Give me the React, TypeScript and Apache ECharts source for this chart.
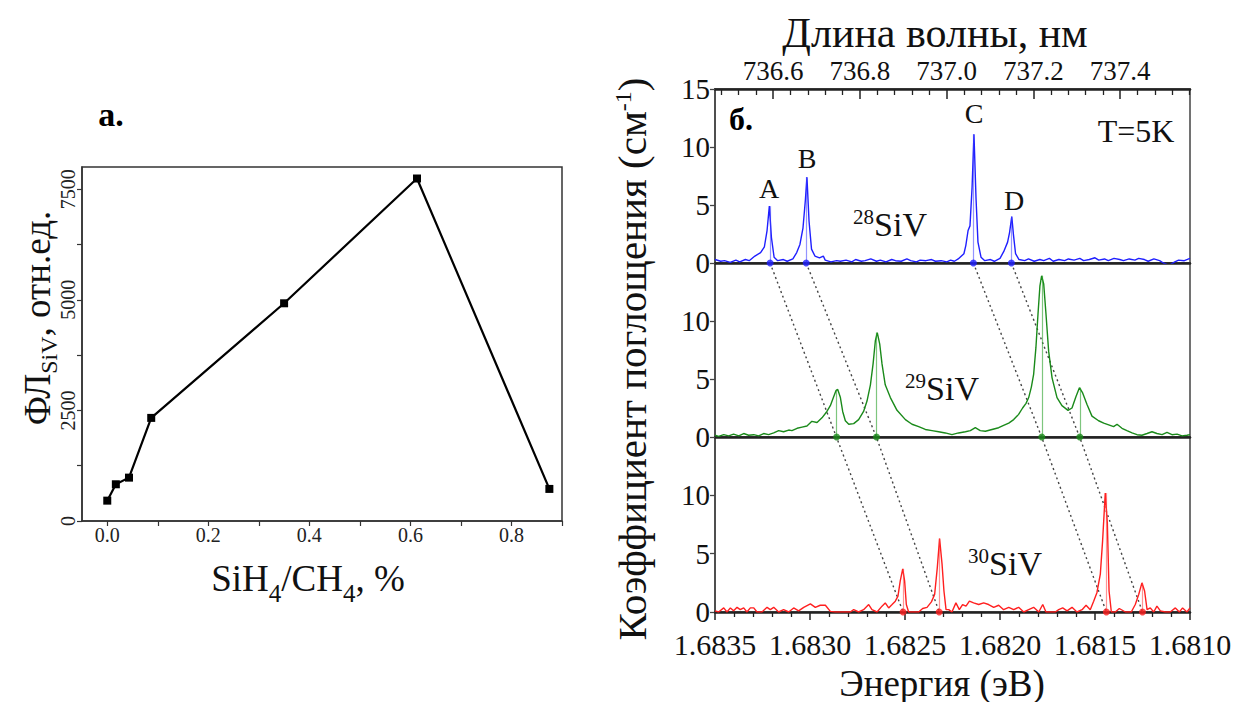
import React, { useEffect, useRef } from 'react';
import * as echarts from 'echarts';

const FONT = '"Liberation Serif", "Times New Roman", serif';

// ---------- left panel (а.) ----------
const silaneRatio = [0, 0.017, 0.043, 0.087, 0.35, 0.613, 0.875];
const plIntensity = [460, 830, 980, 2330, 4920, 7740, 725];
const ratioTicks = [0, 0.1, 0.2, 0.3, 0.4, 0.5, 0.6, 0.7, 0.8, 0.9];
const ratioLabels = [0, 0.2, 0.4, 0.6, 0.8];
const plTicks = [0, 1250, 2500, 3750, 5000, 6250, 7500];
const plLabels = [0, 2500, 5000, 7500];

// ---------- right panel (б.) ----------
const wavelengthLabels = [736.6, 736.8, 737.0, 737.2, 737.4];
const wavelengthMinor = [
  736.48, 736.52, 736.56, 736.64, 736.68, 736.72, 736.76, 736.84, 736.88, 736.92, 736.96,
  737.04, 737.08, 737.12, 737.16, 737.24, 737.28, 737.32, 737.36, 737.44, 737.48, 737.52, 737.56,
];
const peakNames = ['A', 'B', 'C', 'D'];
const peaks28E = [1.68321, 1.68302, 1.68214, 1.68194];
const peaks28H = [4.9, 7.4, 11.1, 4.0];
const peaks29E = [1.68286, 1.68265, 1.68178, 1.68158];
const peaks29H = [4.1, 9.0, 13.9, 4.25];
const peaks30E = [1.68251, 1.68232, 1.68144, 1.68125];
const peaks30H = [3.7, 6.3, 10.2, 2.5];

const spectrum28 = [
  [1.6835, 0.3], [1.68347, 0.15], [1.68345, 0.2], [1.68342, 0.05], [1.68339, 0.25], [1.68337, 0.1],
  [1.68334, 0.3], [1.68332, 0.2], [1.68329, 0.6], [1.68326, 0.9], [1.68324, 1.4], [1.683226, 2.8],
  [1.683214, 4.9], [1.683203, 2.2], [1.683189, 0.5], [1.68317, 0.2], [1.68314, 0.3], [1.68312, 0.15],
  [1.68309, 0.35], [1.68307, 0.9], [1.683053, 1.6], [1.683037, 3.0], [1.683024, 5.5], [1.683016, 7.4],
  [1.683005, 3.6], [1.682992, 1.2], [1.682974, 0.6], [1.68295, 0.45], [1.68293, 0.6], [1.68292, 0.25],
  [1.68289, 0.1], [1.68286, 0.2], [1.68284, 0.15], [1.68281, 0.25], [1.68278, 0.1], [1.68276, 0.3],
  [1.68273, 0.15], [1.68271, 0.2], [1.68268, 0.35], [1.68265, 0.15], [1.68263, 0.25], [1.6826, 0.1],
  [1.68257, 0.3], [1.68255, 0.2], [1.68252, 0.15], [1.68249, 0.35], [1.68247, 0.2], [1.68244, 0.1],
  [1.68242, 0.25], [1.68239, 0.2], [1.68236, 0.3], [1.68234, 0.15], [1.68231, 0.2], [1.68228, 0.1],
  [1.68226, 0.25], [1.68224, 0.15], [1.68222, 0.35], [1.68219, 0.8], [1.68218, 1.5], [1.682168, 2.8],
  [1.682158, 3.2], [1.682147, 6.5], [1.682137, 11.1], [1.682126, 5.5], [1.682116, 1.8], [1.6821, 0.5],
  [1.68208, 0.2], [1.68205, 0.3], [1.68203, 0.15], [1.682, 0.4], [1.68198, 1.0], [1.68196, 1.8],
  [1.68195, 2.6], [1.681938, 4.0], [1.681929, 2.4], [1.681918, 0.8], [1.6819, 0.3], [1.68187, 0.2],
  [1.68185, 0.35], [1.68182, 0.15], [1.68179, 0.3], [1.68177, 0.2], [1.68174, 0.4], [1.68172, 0.15],
  [1.68169, 0.3], [1.68166, 0.2], [1.68164, 0.35], [1.68161, 0.25], [1.68158, 0.4], [1.68156, 0.2],
  [1.68153, 0.3], [1.6815, 0.45], [1.68148, 0.25], [1.68145, 0.35], [1.68143, 0.2], [1.6814, 0.4],
  [1.68137, 0.3], [1.68135, 0.2], [1.68132, 0.35], [1.68129, 0.25], [1.68127, 0.4], [1.68124, 0.3],
  [1.68122, 0.15], [1.68119, 0.35], [1.68116, 0.2], [1.68114, 0.0], [1.68111, -0.2], [1.68108, 0.1],
  [1.68106, 0.25], [1.68103, 0.2], [1.681, 0.4],
];

const spectrum29 = [
  [1.6835, 0.15], [1.683481, 0.05], [1.683454, 0.2], [1.683428, 0.1], [1.683402, 0.25], [1.683375, 0.1],
  [1.683349, 0.3], [1.683323, 0.15], [1.683296, 0.2], [1.68327, 0.1], [1.683244, 0.3], [1.683218, 0.2],
  [1.683191, 0.35], [1.683165, 0.55], [1.683139, 0.45], [1.683112, 0.6], [1.683095, 0.55], [1.683068, 0.75],
  [1.683042, 0.85], [1.683016, 0.95], [1.68299, 1.35], [1.682963, 1.25], [1.682937, 1.65], [1.682911, 2.2],
  [1.682893, 2.7], [1.682875, 3.5], [1.682863, 4.0], [1.682854, 4.1], [1.68284, 3.4], [1.682828, 2.2],
  [1.682814, 1.4], [1.682796, 1.1], [1.68277, 1.15], [1.682744, 1.5], [1.682718, 2.2], [1.6827, 3.1],
  [1.682682, 4.5], [1.682668, 6.3], [1.682656, 8.3], [1.682646, 9.0], [1.682633, 8.0], [1.682621, 6.3],
  [1.682604, 4.5], [1.682577, 3.4], [1.682542, 2.3], [1.682498, 1.5], [1.682463, 1.1], [1.682428, 0.9],
  [1.682393, 0.65], [1.682358, 0.55], [1.682323, 0.45], [1.682288, 0.35], [1.682253, 0.2], [1.682218, 0.35],
  [1.682182, 0.45], [1.682156, 0.55], [1.68213, 0.8], [1.682104, 0.55], [1.682077, 0.5], [1.682042, 0.65],
  [1.682007, 0.8], [1.681981, 1.0], [1.681954, 1.2], [1.681928, 1.5], [1.681902, 1.95], [1.681881, 2.5],
  [1.681863, 2.9], [1.681849, 3.4], [1.681835, 4.3], [1.681823, 5.4], [1.681811, 7.7], [1.6818, 10.6],
  [1.68179, 13.0], [1.681781, 13.9], [1.68177, 13.2], [1.681758, 10.6], [1.681744, 7.4], [1.681726, 5.1],
  [1.6817, 3.4], [1.681674, 2.7], [1.681642, 2.3], [1.681621, 2.5], [1.6816, 3.5], [1.681582, 4.25],
  [1.681565, 3.8], [1.681542, 2.8], [1.681516, 1.8], [1.681481, 1.4], [1.681454, 1.2], [1.681428, 1.05],
  [1.681402, 0.9], [1.681384, 1.1], [1.681358, 0.75], [1.681332, 0.55], [1.681305, 0.35], [1.681279, 0.2],
  [1.681253, 0.15], [1.681226, 0.3], [1.6812, 0.45], [1.681174, 0.3], [1.681147, 0.2], [1.681121, 0.4],
  [1.681095, 0.2], [1.681068, 0.25], [1.681042, 0.1], [1.681016, 0.15], [1.681, 0.2],
];

const spectrum30 = [
  [1.6835, 0.1], [1.683481, 0], [1.683454, 0.35], [1.683437, 0], [1.683419, 0.35], [1.683402, 0.1],
  [1.683384, 0.4], [1.683367, 0.2], [1.683349, 0.35], [1.683332, 0], [1.683314, 0.35], [1.683296, 0.35],
  [1.683279, 0], [1.683253, 0], [1.683226, 0.4], [1.683209, 0.2], [1.683191, 0.4], [1.683165, 0],
  [1.683139, 0.2], [1.683112, 0], [1.683086, 0.35], [1.68306, 0.1], [1.683033, 0.4], [1.682998, 0.7],
  [1.682972, 0.4], [1.682946, 0.58], [1.682919, 0.58], [1.682893, 0.05], [1.682867, 0], [1.68284, 0],
  [1.682814, 0], [1.682788, 0], [1.68277, 0.2], [1.682744, 0], [1.682718, 0.2], [1.682691, 0.64],
  [1.682674, 0.2], [1.682647, 0], [1.682621, 0.5], [1.682604, 0.78], [1.682586, 0.35], [1.682568, 0.64],
  [1.682551, 0.93], [1.682537, 1.36], [1.682525, 2.67], [1.682512, 3.7], [1.682502, 2.67], [1.682493, 0.64],
  [1.682481, 0], [1.682454, 0], [1.682428, 0], [1.682407, 0.3], [1.682384, 0.4], [1.682361, 0.87],
  [1.682344, 1.5], [1.68233, 3.8], [1.682318, 6.3], [1.682305, 4.1], [1.682295, 1.8], [1.682284, 0.2],
  [1.68227, 0.2], [1.682253, 0], [1.682232, 0.78], [1.682214, 0.2], [1.682197, 0.64], [1.682179, 0.5],
  [1.682161, 0.93], [1.682139, 0.78], [1.682112, 0.64], [1.682086, 0.78], [1.68206, 0.64], [1.682033, 0.4],
  [1.682007, 0.58], [1.681981, 0.2], [1.681954, 0.4], [1.681928, 0.2], [1.681902, 0.4], [1.681875, 0],
  [1.681849, 0.2], [1.681823, 0.4], [1.681796, 0], [1.681775, 0.64], [1.681758, 0], [1.681735, 0],
  [1.681709, 0], [1.681691, 0.2], [1.68167, 0.35], [1.681647, 0.1], [1.681621, 0.4], [1.681595, 0],
  [1.681568, 0.2], [1.681547, 0.58], [1.681525, 0.2], [1.681507, 0.93], [1.68149, 1.65], [1.681472, 3.25],
  [1.68146, 6.1], [1.681446, 10.2], [1.681435, 7.6], [1.681426, 1.8], [1.681414, 0], [1.681393, 0],
  [1.681372, 0.3], [1.68134, 0], [1.681309, 0], [1.681288, 0.64], [1.68127, 1.5], [1.681253, 2.5],
  [1.681239, 1.8], [1.681226, 0.2], [1.681209, 0.35], [1.681191, 0], [1.681174, 0.5], [1.681156, 0.1],
  [1.68113, 0], [1.681104, 0], [1.681077, 0.35], [1.681056, 0], [1.681039, 0.35], [1.681016, 0],
  [1.681, 0.35],
];

const BLUE = '#1f1fff';
const GREEN = '#1a8a1a';
const RED = '#ff1f1f';

function App() {
  const ref = useRef<HTMLDivElement>(null);

  useEffect(() => {
    if (!ref.current) return;
    const chart = echarts.init(ref.current, undefined, { renderer: 'svg' });

    const tickFont = { fontFamily: FONT, color: '#111' };
    const energyBase = { type: 'value', min: 1.681, max: 1.6835, inverse: true, interval: 0.0005 };
    const sepAxis = (gridIndex: number) => ({
      gridIndex,
      ...energyBase,
      position: 'bottom',
      axisLine: { show: true, onZero: false, lineStyle: { color: '#222', width: 2.5 } },
      axisTick: { show: false },
      axisLabel: { show: false },
      splitLine: { show: false },
    });
    const panelY = (gridIndex: number, showMax: boolean) => ({
      gridIndex,
      type: 'value',
      min: 0,
      max: 15,
      interval: 5,
      axisLine: { show: true, onZero: false, lineStyle: { color: '#444', width: 1.5 } },
      axisTick: { show: true, length: 5, lineStyle: { color: '#444', width: 1.3 } },
      axisLabel: { ...tickFont, fontSize: 29, lineHeight: 29, margin: 5, showMaxLabel: showMax },
      splitLine: { show: false },
    });

    const spectrumSeries = (
      data: number[][],
      color: string,
      stemColor: string,
      peaksE: number[],
      peaksH: number[],
      idx: number
    ) => [
      {
        type: 'line',
        xAxisIndex: idx,
        yAxisIndex: idx === 1 ? 1 : idx === 4 ? 2 : 3,
        data,
        symbol: 'none',
        lineStyle: { color, width: 1.4 },
        silent: true,
        z: 3,
        markLine: {
          silent: true,
          symbol: ['none', 'none'],
          label: { show: false },
          lineStyle: { color: stemColor, width: 1.2, type: 'solid' },
          data: peaksE.map((e, i) => [{ coord: [e, 0] }, { coord: [e, peaksH[i]] }]),
        },
      },
      {
        type: 'scatter',
        xAxisIndex: idx,
        yAxisIndex: idx === 1 ? 1 : idx === 4 ? 2 : 3,
        data: peaksE.map((e) => [e, 0]),
        symbol: 'circle',
        symbolSize: 7,
        itemStyle: { color },
        silent: true,
        z: 5,
      },
    ];

    const connectors = peakNames.map((name, i) => ({
      type: 'line',
      name: 'link' + name,
      xAxisIndex: 6,
      yAxisIndex: 4,
      data: [
        [peaks28E[i], 2],
        [peaks29E[i], 1],
        [peaks30E[i], 0],
      ],
      symbol: 'none',
      silent: true,
      z: 2,
      lineStyle: { color: '#444', width: 1.4, type: [2, 3] },
    }));

    const text = (
      t: string,
      x: number,
      y: number,
      fontSize: number,
      extra: any = {},
      rotation = 0
    ) => ({
      type: 'text',
      x,
      y,
      rotation,
      silent: true,
      style: {
        text: t,
        fontSize,
        fontFamily: FONT,
        fill: '#111',
        align: 'center',
        verticalAlign: 'middle',
        ...extra,
      },
    });

    const supRich = (base: number, sup: number) => ({
      s: { fontSize: sup, fontFamily: FONT, fill: '#111', verticalAlign: 'top', lineHeight: sup },
      b: { fontSize: base, fontFamily: FONT, fill: '#111', lineHeight: base + 2 },
    });

    const option: any = {
      animation: false,
      backgroundColor: '#fff',
      grid: [
        { left: 82, top: 167, width: 480, height: 354, show: true, borderColor: '#333', borderWidth: 1.5 },
        { left: 715, top: 89, width: 475, height: 174, show: true, borderColor: '#444', borderWidth: 1.5 },
        { left: 715, top: 263, width: 475, height: 174, show: true, borderColor: '#444', borderWidth: 1.5 },
        { left: 715, top: 437, width: 475, height: 175, show: true, borderColor: '#444', borderWidth: 1.5 },
        { left: 715, top: 263, width: 475, height: 349, show: false },
      ],
      xAxis: [
        {
          gridIndex: 0,
          type: 'value',
          min: -0.05,
          max: 0.9,
          position: 'bottom',
          axisLine: { show: true, onZero: false, lineStyle: { color: '#333', width: 1.5 } },
          axisTick: { show: true, customValues: ratioTicks, length: 5, lineStyle: { color: '#333', width: 1.2 } },
          axisLabel: {
            ...tickFont,
            color: '#222',
            customValues: ratioLabels,
            formatter: (v: number) => v.toFixed(1),
            fontSize: 20,
            margin: 4,
          },
          splitLine: { show: false },
        },
        sepAxis(1),
        {
          gridIndex: 1,
          type: 'value',
          min: 736.4657,
          max: 737.561,
          position: 'top',
          axisLine: { show: true, onZero: false, lineStyle: { color: '#222', width: 2.5 } },
          axisTick: { show: true, inside: true, length: 10, customValues: wavelengthLabels, lineStyle: { color: '#222', width: 1.5 } },
          axisLabel: {
            ...tickFont,
            customValues: wavelengthLabels,
            formatter: (v: number) => v.toFixed(1),
            fontSize: 27,
            margin: 5,
          },
          splitLine: { show: false },
        },
        {
          gridIndex: 1,
          type: 'value',
          min: 736.4657,
          max: 737.561,
          position: 'top',
          axisLine: { show: false, onZero: false },
          axisTick: { show: true, inside: true, length: 6, customValues: wavelengthMinor, lineStyle: { color: '#222', width: 1.3 } },
          axisLabel: { show: false },
          splitLine: { show: false },
        },
        sepAxis(2),
        {
          gridIndex: 3,
          ...energyBase,
          position: 'bottom',
          axisLine: { show: true, onZero: false, lineStyle: { color: '#222', width: 2.5 } },
          axisTick: { show: true, length: 8, lineStyle: { color: '#222', width: 1.5 } },
          minorTick: { show: true, splitNumber: 5, length: 5, lineStyle: { color: '#222', width: 1.3 } },
          axisLabel: { ...tickFont, fontSize: 30, lineHeight: 30, margin: 17, formatter: (v: number) => v.toFixed(4) },
          splitLine: { show: false },
          minorSplitLine: { show: false },
        },
        { gridIndex: 4, ...energyBase, show: false },
      ],
      yAxis: [
        {
          gridIndex: 0,
          type: 'value',
          min: 0,
          max: 8000,
          axisLine: { show: true, onZero: false, lineStyle: { color: '#333', width: 1.5 } },
          axisTick: { show: true, customValues: plTicks, length: 5, lineStyle: { color: '#333', width: 1.2 } },
          axisLabel: {
            ...tickFont,
            color: '#222',
            customValues: plLabels,
            formatter: (v: number) => String(v),
            rotate: 90,
            fontSize: 20,
            margin: 4,
          },
          splitLine: { show: false },
        },
        panelY(1, true),
        panelY(2, false),
        panelY(3, false),
        { gridIndex: 4, type: 'value', min: 0, max: 2, show: false },
      ],
      series: [
        {
          type: 'line',
          xAxisIndex: 0,
          yAxisIndex: 0,
          data: silaneRatio.map((x, i) => [x, plIntensity[i]]),
          symbol: 'rect',
          symbolSize: 8,
          itemStyle: { color: '#000' },
          lineStyle: { color: '#000', width: 2.2 },
          silent: true,
        },
        ...connectors,
        ...spectrumSeries(spectrum28, BLUE, 'rgba(60,60,255,0.55)', peaks28E, peaks28H, 1),
        ...spectrumSeries(spectrum29, GREEN, 'rgba(40,160,40,0.6)', peaks29E, peaks29H, 4),
        ...spectrumSeries(spectrum30, RED, 'rgba(255,60,60,0.55)', peaks30E, peaks30H, 5),
      ],
      graphic: {
        elements: [
          text('а.', 111, 114, 34, { fontWeight: 'bold', fill: '#000' }),
          text('б.', 741, 119, 32, { fontWeight: 'bold', fill: '#000' }),
          text('T=5K', 1136, 131, 32),
          text('A', 769, 188, 28),
          text('B', 807, 158, 28),
          text('C', 974, 113, 28),
          text('D', 1014, 200, 28),
          text('{s|28}{b|SiV}', 890, 224, 34, { rich: supRich(34, 21) }),
          text('{s|29}{b|SiV}', 942, 388, 34, { rich: supRich(34, 21) }),
          text('{s|30}{b|SiV}', 1005, 563, 34, { rich: supRich(34, 21) }),
          text('Длина волны, нм', 935, 33, 42),
          text('Энергия (эВ)', 942, 683, 37),
          text(
            '{b|Коэффициент поглощения (см}{s|-1}{b|)}',
            632,
            359,
            41,
            { rich: supRich(41, 24) },
            Math.PI / 2
          ),
          text('{b|SiH}{u|4}{b|/CH}{u|4}{b|, %}', 308, 578, 37, {
            rich: {
              b: { fontSize: 37, fontFamily: FONT, fill: '#111', lineHeight: 56 },
              u: { fontSize: 25, fontFamily: FONT, fill: '#111', verticalAlign: 'bottom' },
            },
          }),
          text(
            '{b|ФЛ}{u|SiV}{b|, отн.ед.}',
            37,
            318,
            37,
            {
              rich: {
                b: { fontSize: 37, fontFamily: FONT, fill: '#111', lineHeight: 48 },
                u: { fontSize: 24, fontFamily: FONT, fill: '#111', verticalAlign: 'bottom' },
              },
            },
            Math.PI / 2
          ),
        ],
      },
    };

    chart.setOption(option);
    return () => chart.dispose();
  }, []);

  return (
    <div
      ref={ref}
      style={{ position: 'fixed', left: 0, top: 0, width: 1244, height: 702, background: '#fff' }}
    />
  );
}

export default App;
